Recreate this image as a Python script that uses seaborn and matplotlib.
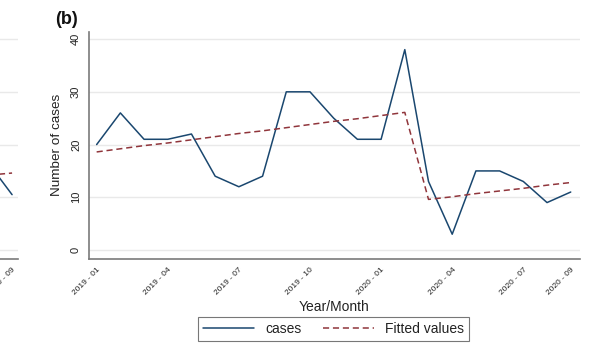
import matplotlib
matplotlib.use("Agg")
import matplotlib.pyplot as plt
import seaborn as sns
import pandas as pd

# Monthly case counts, Jan 2019 – Sep 2020
months = ["2019 - 01", "2019 - 02", "2019 - 03", "2019 - 04", "2019 - 05",
          "2019 - 06", "2019 - 07", "2019 - 08", "2019 - 09", "2019 - 10",
          "2019 - 11", "2019 - 12", "2020 - 01", "2020 - 02", "2020 - 03",
          "2020 - 04", "2020 - 05", "2020 - 06", "2020 - 07", "2020 - 08",
          "2020 - 09"]
cases = [20, 26, 21, 21, 22, 14, 12, 14, 30, 30, 25, 21, 21, 38, 13, 3, 15,
         15, 13, 9, 11]
fitted = [18.6, 19.2, 19.8, 20.3, 20.9, 21.5, 22.1, 22.6, 23.2, 23.8, 24.4,
          24.9, 25.5, 26.1, 9.6, 10.1, 10.7, 11.2, 11.7, 12.3, 12.8]
tick_months = ["2019 - 01", "2019 - 04", "2019 - 07", "2019 - 10",
               "2020 - 01", "2020 - 04", "2020 - 07", "2020 - 09"]
y_ticks = [0, 10, 20, 30, 40]

# Last months of the neighbouring panel (a)
a_months_tail = ["2020 - 08", "2020 - 09"]
a_cases_tail = [16.5, 10.5]
a_fitted_tail = [14.2, 14.6]
a_tick_months = ["2020 - 09"]

NAVY = "#1a476f"
MAROON = "#90353b"
GRID = "#e9e9e9"
SPINE = "#7a7a7a"

sns.set_theme(style="white")
plt.rcParams["font.family"] = ["Liberation Sans", "DejaVu Sans"]

df = pd.DataFrame({"idx": range(len(months)), "month": months,
                   "cases": cases, "fitted": fitted})
df_a = pd.DataFrame({"idx": [months.index(m) for m in a_months_tail],
                     "cases": a_cases_tail, "fitted": a_fitted_tail})

W, H = 590, 344
fig = plt.figure(figsize=(W / 100, H / 100), dpi=100)


def style_axes(ax, ticks):
    ax.set_ylim(-1.7, 41.4)
    ax.set_yticks(y_ticks)
    ax.yaxis.grid(True, color=GRID, lw=1.0)
    ax.xaxis.grid(False)
    ax.set_axisbelow(True)
    for s in ("top", "right"):
        ax.spines[s].set_visible(False)
    for s in ("left", "bottom"):
        ax.spines[s].set_color(SPINE)
        ax.spines[s].set_linewidth(1.2)
    ax.tick_params(axis="both", direction="out", length=3.5, width=0.8,
                   color="#555555", labelcolor="#222222")
    ax.tick_params(axis="y", labelsize=8, labelrotation=90, pad=2.5)
    ax.tick_params(axis="x", labelsize=6, pad=1.5)
    ax.set_xticks([months.index(m) for m in ticks])
    ax.set_xticklabels(ticks, rotation=45, ha="right",
                       rotation_mode="anchor")
    for lab in ax.get_yticklabels():
        lab.set_va("center")


# Panel (a): only its right edge is in view
ax_a = fig.add_axes([(18 - 490) / W, 1 - 259 / H, 490 / W, (259 - 31.7) / H])
sns.lineplot(data=df_a, x="idx", y="cases", ax=ax_a, color=NAVY, lw=1.1)
sns.lineplot(data=df_a, x="idx", y="fitted", ax=ax_a, color=MAROON, lw=1.1,
             linestyle=(0, (4, 2.5)))
ax_a.set_xlim(-0.42, 20.25)
style_axes(ax_a, a_tick_months)
ax_a.tick_params(axis="y", labelleft=False, left=False)
ax_a.set_xlabel("")
ax_a.set_ylabel("")

# Panel (b)
ax = fig.add_axes([89.3 / W, 1 - 259 / H, (579.5 - 89.3) / W, (259 - 31.7) / H])
sns.lineplot(data=df, x="idx", y="cases", ax=ax, color=NAVY, lw=1.1,
             label="cases")
sns.lineplot(data=df, x="idx", y="fitted", ax=ax, color=MAROON, lw=1.1,
             linestyle=(0, (4, 2.5)), label="Fitted values")
ax.set_xlim(-0.31, 20.37)
style_axes(ax, tick_months)

ax.set_ylabel("Number of cases", fontsize=9.7, color="#222222")
ax.yaxis.set_label_coords((63 - 89.3) / 490.2, 0.5)
ax.set_xlabel("Year/Month", fontsize=10, color="#222222")
ax.xaxis.set_label_coords(0.5, -(300 - 259) / 227.3)

ax.legend_.remove()
handles, labels = ax.get_legend_handles_labels()
leg = fig.legend(handles, labels, loc="center", ncol=2,
                 bbox_to_anchor=(333.5 / W, 1 - 329 / H),
                 bbox_transform=fig.transFigure, fontsize=10,
                 handlelength=3.7, handletextpad=0.8, columnspacing=1.5,
                 borderpad=0.35, frameon=True, fancybox=False,
                 edgecolor="#777777", framealpha=1)
leg.get_frame().set_linewidth(0.8)
for t in leg.get_texts():
    t.set_color("#222222")

fig.text(55 / W, 1 - 19 / H, "(b)", fontsize=13, fontweight="bold",
         ha="left", va="center", color="#111111")

fig.savefig("out.png", dpi=100)
